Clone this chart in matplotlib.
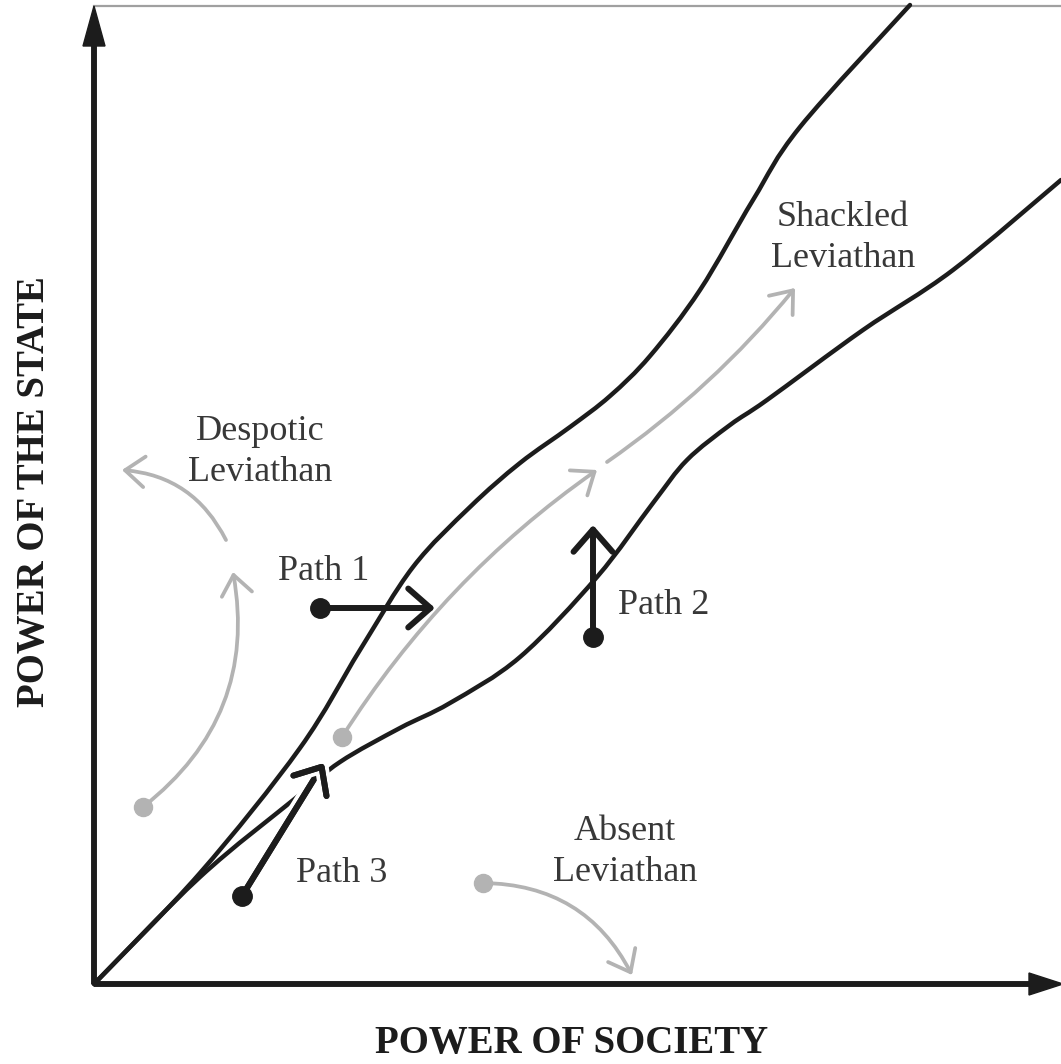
import numpy as np
import matplotlib
matplotlib.use("Agg")
import matplotlib.pyplot as plt
from matplotlib.path import Path
from matplotlib.patches import PathPatch, FancyArrowPatch, FancyArrow
import matplotlib.patheffects as pe

# boundary between despotic and shackled leviathan (power of society, power of state)
upper_x = [0, 106, 206, 266, 319, 376, 426, 476, 516, 556, 606, 659, 706, 816]
upper_y = [0, 111, 236, 334, 417, 477, 521, 557, 588, 628, 694, 784, 857, 979]
# boundary between shackled and absent leviathan
lower_x = [0, 106, 203, 246, 306, 356, 426, 503, 559, 593, 636, 673, 769, 859, 967]
lower_y = [0, 107, 187, 222, 256, 281, 327, 407, 481, 524, 559, 584, 654, 714, 804]

# grey trajectories: (start, end, curvature, starts with dot)
grey_paths = [
    ((49, 177), (139, 412), 0.30, True),     # despotic, first leg
    ((132, 444), (28, 514), 0.28, False),    # despotic, second leg
    ((248, 247), (503, 514), -0.10, True),   # shackled, first leg
    ((513, 522), (701, 696), 0.07, False),   # shackled, second leg
    ((389, 101), (538, 9), -0.30, True),     # absent
]

# black paths: start dot, arrow tip, label position
path_names = ["Path 1", "Path 2", "Path 3"]
path_start = [(226, 376), (499, 347), (148, 88)]
path_end = [(341, 376), (499, 459), (230, 221)]
path_label_xy = [(230, 412), (570, 379), (248, 111)]

regions = ["Despotic\nLeviathan", "Shackled\nLeviathan", "Absent\nLeviathan"]
region_xy = [(166, 532), (749, 746), (531, 132)]

x_label = "POWER OF SOCIETY"
y_label = "POWER OF THE STATE"

black = "#1c1c1c"
grey = "#b3b3b3"
txt = "#383838"
plt.rcParams["font.family"] = ["Liberation Serif", "DejaVu Serif"]


def smooth_path(xs, ys):
    pts = np.column_stack([xs, ys]).astype(float)
    verts = [pts[0]]
    codes = [Path.MOVETO]
    n = len(pts)
    for i in range(n - 1):
        p0 = pts[i - 1] if i > 0 else pts[i]
        p1 = pts[i]
        p2 = pts[i + 1]
        p3 = pts[i + 2] if i + 2 < n else pts[i + 1]
        verts += [p1 + (p2 - p0) / 6, p2 - (p3 - p1) / 6, p2]
        codes += [Path.CURVE4] * 3
    return Path(verts, codes)


fig = plt.figure(figsize=(10.61, 10.64), dpi=100)
ax = fig.add_axes([0, 0, 1, 1])
ax.set_xlim(-94, 967)
ax.set_ylim(-80, 984)
ax.axis("off")

# top border
ax.plot([0, 967], [978, 978], color="#a0a0a0", lw=1.6, zorder=1)

# axes with arrow heads
ax.add_patch(FancyArrow(0, 0, 0, 978, width=4.5, head_width=22, head_length=40,
                        length_includes_head=True, color=black, zorder=3))
ax.add_patch(FancyArrow(0, 0, 969, 0, width=4.5, head_width=22, head_length=34,
                        length_includes_head=True, color=black, zorder=3))

# boundaries
for xs, ys in [(upper_x, upper_y), (lower_x, lower_y)]:
    ax.add_patch(PathPatch(smooth_path(xs, ys), fill=False, lw=3.2, ec=black,
                           capstyle="round", zorder=2))

# grey trajectories
for (x0, y0), (x1, y1), rad, dot in grey_paths:
    ax.add_patch(FancyArrowPatch((x0, y0), (x1, y1),
                                 connectionstyle="arc3,rad=%g" % rad,
                                 arrowstyle="->,head_length=14,head_width=11",
                                 mutation_scale=1, lw=2.7, color=grey,
                                 shrinkA=0, shrinkB=0, zorder=2))
    if dot:
        ax.plot(x0, y0, "o", ms=13, color=grey, zorder=2)

# black paths
halo = [pe.withStroke(linewidth=10, foreground="white")]
for i, name in enumerate(path_names):
    a = FancyArrowPatch(path_start[i], path_end[i],
                        arrowstyle="->,head_length=16,head_width=14",
                        mutation_scale=1, lw=4.3, color=black,
                        shrinkA=0, shrinkB=0, zorder=4)
    if i == 2:
        a.set_path_effects(halo + [pe.Normal()])
    ax.add_patch(a)
    ax.plot(*path_start[i], "o", ms=14, color=black, zorder=5)
    ax.text(*path_label_xy[i], name, fontsize=26, color=txt,
            ha="center", va="center", zorder=5)

for label, (x, y) in zip(regions, region_xy):
    ax.text(x, y, label, fontsize=26, color=txt, ha="center", va="center",
            linespacing=1.3, zorder=5)

ax.text(478, -59, x_label, fontsize=28, fontweight="bold", color=black,
        ha="center", va="center")
ax.text(-59, 492, y_label, fontsize=28, fontweight="bold", color=black,
        ha="center", va="center", rotation=90)

fig.savefig("out.png", dpi=100)
